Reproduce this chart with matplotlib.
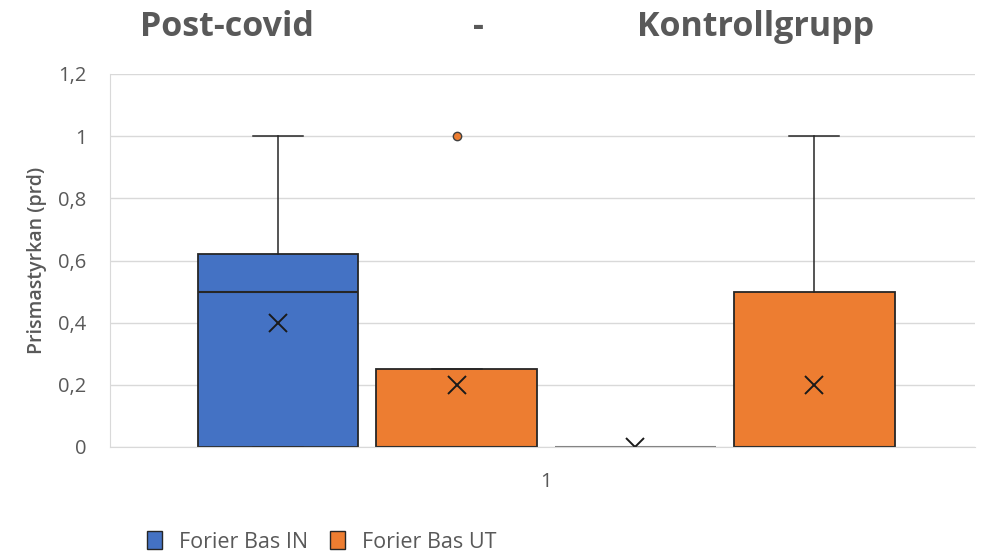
import matplotlib.pyplot as plt
from matplotlib.patches import Patch

# box statistics (Excel box & whisker)
series = ['Forier Bas IN', 'Forier Bas UT', 'Forier Bas IN', 'Forier Bas UT']
q1 = [0, 0, 0, 0]
med = [0.5, 0, 0, 0]
q3 = [0.62, 0.25, 0, 0.5]
whislo = [0, 0, 0, 0]
whishi = [1, 0.25, 0, 1]
means = [0.4, 0.2, 0, 0.2]
fliers = [[], [1], [], []]

blue = '#4472C4'
orange = '#ED7D31'
colors = [blue, orange, blue, orange]
text_gray = '#595959'

plt.rcParams['font.family'] = ['Open Sans', 'DejaVu Sans']

fig = plt.figure(figsize=(9.87, 5.55), dpi=100)
ax = fig.add_axes([110 / 987, 1 - 447 / 555, 865 / 987, 373 / 555])

stats = []
for i in range(len(series)):
    stats.append({'q1': q1[i], 'med': med[i], 'q3': q3[i], 'whislo': whislo[i],
                  'whishi': whishi[i], 'mean': means[i], 'fliers': fliers[i]})

positions = [1, 2, 3, 4]
bp = ax.bxp(stats, positions=positions, widths=0.9, patch_artist=True,
            showmeans=True, showfliers=True,
            boxprops=dict(linewidth=1.3, edgecolor='#262626'),
            medianprops=dict(color='#262626', linewidth=1.5),
            whiskerprops=dict(color='#262626', linewidth=1.1),
            capprops=dict(color='#262626', linewidth=1.1),
            meanprops=dict(marker='x', markeredgecolor='#1a1a1a', markersize=13,
                           markeredgewidth=1.4))
for patch, c in zip(bp['boxes'], colors):
    patch.set_facecolor(c)
for cap in bp['caps']:
    x0, x1 = cap.get_xdata()
    c = (x0 + x1) / 2
    cap.set_xdata([c - 0.14, c + 0.14])
for fl, c in zip(bp['fliers'], colors):
    fl.set_marker('o')
    fl.set_markerfacecolor(c)
    fl.set_markeredgecolor('#404040')
    fl.set_markersize(6)
# flat box for the all-zero series
bp['boxes'][2].set_edgecolor('#808080')
bp['medians'][2].set_color('#808080')

ax.set_xlim(0.06, 4.9)
ax.set_ylim(0, 1.2)
ax.set_yticks([0, 0.2, 0.4, 0.6, 0.8, 1.0, 1.2])
ax.set_yticklabels(['0', '0,2', '0,4', '0,6', '0,8', '1', '1,2'], fontsize=14.5, color=text_gray)
ax.set_xticks([2.5])
ax.set_xticklabels(['1'], fontsize=14.5, color=text_gray)
ax.tick_params(axis='y', length=0, pad=17)
ax.tick_params(axis='x', length=0, pad=18)
ax.yaxis.grid(True, color='#d9d9d9', linewidth=1)
ax.set_axisbelow(True)
for s in ['top', 'right']:
    ax.spines[s].set_visible(False)
ax.spines['left'].set_color('#d9d9d9')
ax.spines['bottom'].set_color('#d9d9d9')
ax.set_ylabel('Prismastyrkan (prd)', fontsize=14, color=text_gray, fontweight='semibold', labelpad=8)

fig.text(140 / 987, 1 - 27 / 555, 'Post-covid', fontsize=24.5, fontweight='bold', color=text_gray, va='center')
fig.text(473 / 987, 1 - 27 / 555, '-', fontsize=24.5, fontweight='bold', color=text_gray, va='center')
fig.text(637 / 987, 1 - 27 / 555, 'Kontrollgrupp', fontsize=24.5, fontweight='bold', color=text_gray, va='center')

handles = [Patch(facecolor=blue, edgecolor='#262626', label='Forier Bas IN'),
           Patch(facecolor=orange, edgecolor='#262626', label='Forier Bas UT')]
fig.legend(handles=handles, loc='center left', bbox_to_anchor=(147 / 987, 1 - 542 / 555),
           ncol=2, frameon=False, fontsize=15.5, handlelength=0.7, handleheight=0.9,
           columnspacing=1.0, handletextpad=0.8, labelcolor=text_gray,
           borderpad=0, borderaxespad=0)

fig.savefig('out.png', dpi=100)
